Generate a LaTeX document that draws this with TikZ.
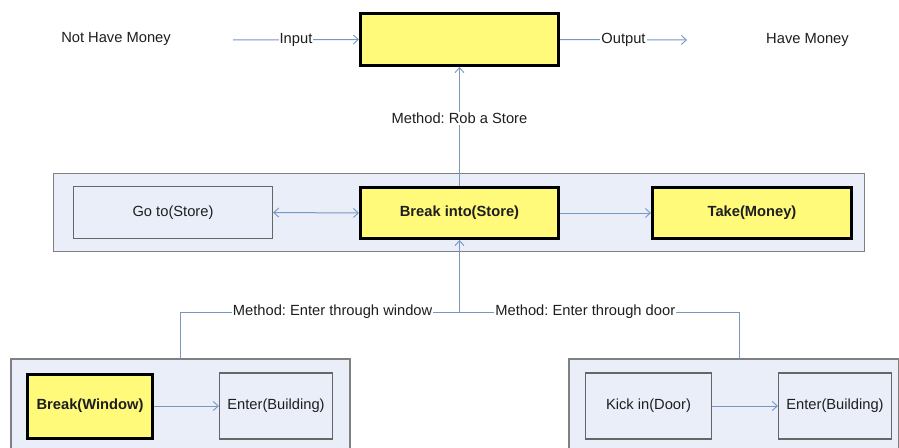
\documentclass[tikz,border=0pt]{standalone}
\usepackage{fontspec}
\setmainfont{Liberation Sans}
\usetikzlibrary{arrows.meta}
\definecolor{boxyellow}{RGB}{255,250,122}
\definecolor{contfill}{RGB}{233,238,248}
\definecolor{contline}{RGB}{128,128,128}
\definecolor{connblue}{RGB}{120,150,196}
\definecolor{txt}{RGB}{30,30,30}
\frenchspacing
\tikzset{
  every node/.style={font=\fontsize{14.7}{17}\selectfont, text=txt},
  container/.style={draw=contline, line width=1.4pt, fill=contfill, inner sep=0pt},
  hibox/.style={draw=black, line width=3pt, fill=boxyellow, inner sep=0pt, font=\fontsize{14.7}{17}\selectfont\bfseries},
  plainbox/.style={draw=contline!80!black, line width=1.2pt, fill=contfill, inner sep=0pt},
  conn/.style={draw=connblue, line width=1pt},
  arr/.style={conn, -{Straight Barb[length=5pt,width=9pt,line width=0.9pt]}},
  darr/.style={conn, {Straight Barb[length=5pt,width=9pt,line width=0.9pt]}-{Straight Barb[length=5pt,width=9pt,line width=0.9pt]}},
  lbl/.style={fill=white, inner sep=1pt},
  plaintext/.style={inner sep=0pt}
}
\begin{document}
\begin{tikzpicture}[x=1pt,y=-1pt]
\useasboundingbox (0,0) rectangle (899,447);
\clip (0,0) rectangle (899,447);
\fill[white] (0,0) rectangle (899,447);
% containers
\node[container, minimum width=811pt, minimum height=78pt] (mid) at (459,212.5) {};
\node[container, minimum width=339pt, minimum height=110pt] (blc) at (180.5,414) {};
\node[container, minimum width=330pt, minimum height=110pt] (brc) at (734,414) {};
% top
\node[hibox, minimum width=198pt, minimum height=52pt] (top) at (459.5,39.5) {};
\node[plaintext] (notm) at (116,39) {Not Have Money};
\node[plaintext] (havem) at (807.5,40) {Have Money};
\coordinate (inst) at (233,40);
\coordinate (outend) at (687,40);
% middle boxes
\node[plainbox, minimum width=199pt, minimum height=52pt] (goto) at (173,212.5) {Go to(Store)};
\node[hibox, minimum width=198pt, minimum height=51pt] (bi) at (459.5,213) {Break into(Store)};
\node[hibox, minimum width=199pt, minimum height=51pt] (take) at (752,213) {Take(Money)};
% bottom boxes
\node[hibox, minimum width=125pt, minimum height=64pt] (bw) at (90,406) {Break(Window)};
\node[plainbox, minimum width=113pt, minimum height=66pt] (eb1) at (276,406) {Enter(Building)};
\node[plainbox, minimum width=126pt, minimum height=66pt] (kd) at (648.5,406) {Kick in(Door)};
\node[plainbox, minimum width=113pt, minimum height=66pt] (eb2) at (835,406) {Enter(Building)};
% junction coordinates
\coordinate (j) at (459.5,312);
\coordinate (wtop) at (180,359);
\coordinate (dtop) at (739,359);
% connectors
\draw[arr] (inst) -- node[lbl]{Input} (top.west);
\draw[arr] (top.east) -- node[lbl]{Output} (outend);
\draw[arr] (bi.north) -- node[lbl, pos=0.57]{Method: Rob a Store} (top.south);
\draw[darr] (goto.east) -- (bi.west);
\draw[arr] (bi.east) -- (take.west);
\draw[conn] (wtop) |- node[lbl, pos=0.773]{Method: Enter through window} (j);
\draw[conn] (dtop) |- node[lbl, pos=0.775]{Method: Enter through door} (j);
\draw[arr] (j) -- (bi.south);
\draw[arr] (bw.east) -- (eb1.west);
\draw[arr] (kd.east) -- (eb2.west);
\end{tikzpicture}
\end{document}
